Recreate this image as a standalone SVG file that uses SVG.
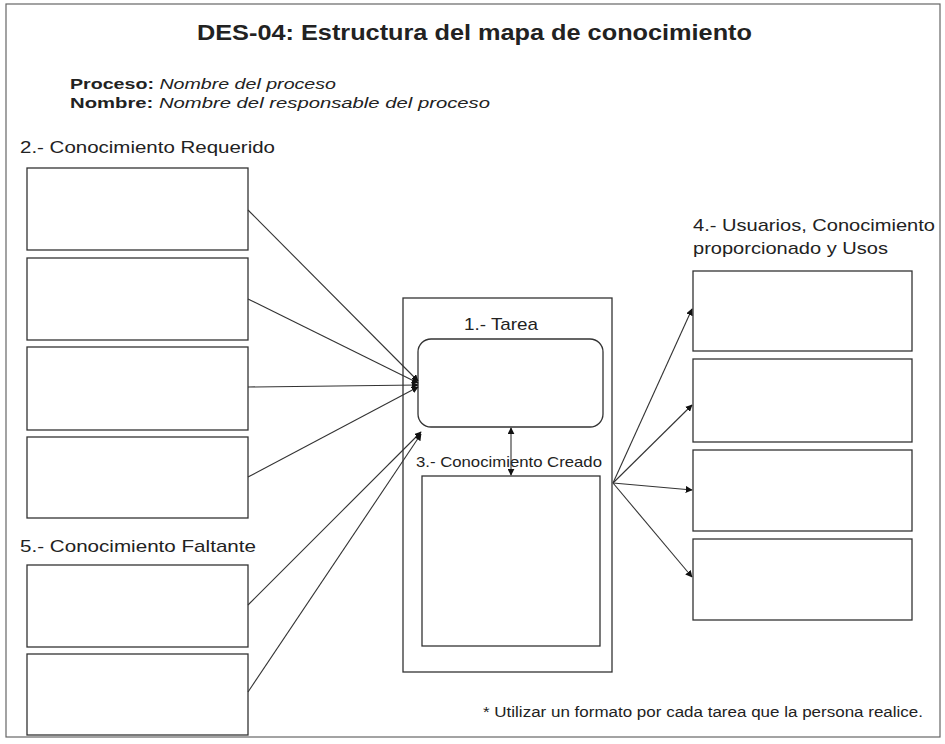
<svg xmlns="http://www.w3.org/2000/svg" width="945" height="744" viewBox="0 0 945 744">
<style>
text{font-family:"Liberation Sans",Arial,sans-serif;fill:#222}
.box{fill:#fff;stroke:#333;stroke-width:1.3}
.frame{fill:#fff;stroke:#666;stroke-width:1.2}
.con{stroke:#333;stroke-width:1.1;fill:none;marker-end:url(#ah)}
</style>
<defs>
<marker id="ah" viewBox="0 0 10 10" refX="9" refY="5" markerWidth="7" markerHeight="7" orient="auto" markerUnits="userSpaceOnUse">
<path d="M0,0 L10,5 L0,10 z" fill="#111"/>
</marker>
<marker id="ahs" viewBox="0 0 10 10" refX="9" refY="5" markerWidth="7" markerHeight="7" orient="auto-start-reverse" markerUnits="userSpaceOnUse">
<path d="M0,0 L10,5 L0,10 z" fill="#111"/>
</marker>
</defs>
<rect class="frame" x="6" y="4" width="934" height="733"/>
<g id="header">
<text x="197" y="40" font-size="22" font-weight="bold" textLength="555" lengthAdjust="spacingAndGlyphs">DES-04: Estructura del mapa de conocimiento</text>
<text x="70" y="89" font-size="15.5" textLength="266" lengthAdjust="spacingAndGlyphs"><tspan font-weight="bold">Proceso:</tspan><tspan font-style="italic"> Nombre del proceso</tspan></text>
<text x="70" y="108" font-size="15.5" textLength="420" lengthAdjust="spacingAndGlyphs"><tspan font-weight="bold">Nombre:</tspan><tspan font-style="italic"> Nombre del responsable del proceso</tspan></text>
</g>
<g id="label-requerido"><text x="20" y="153" font-size="16.5" textLength="255" lengthAdjust="spacingAndGlyphs">2.- Conocimiento Requerido</text></g>
<g id="label-faltante"><text x="20" y="552" font-size="17" textLength="236" lengthAdjust="spacingAndGlyphs">5.- Conocimiento Faltante</text></g>
<g id="label-usuarios">
<text x="693" y="231" font-size="17" textLength="242" lengthAdjust="spacingAndGlyphs">4.- Usuarios, Conocimiento</text>
<text x="693" y="254" font-size="17" textLength="195" lengthAdjust="spacingAndGlyphs">proporcionado y Usos</text>
</g>
<g id="req1"><rect class="box" x="27" y="168" width="221" height="82"/></g>
<g id="req2"><rect class="box" x="27" y="258" width="221" height="82"/></g>
<g id="req3"><rect class="box" x="27" y="347" width="221" height="83"/></g>
<g id="req4"><rect class="box" x="27" y="437" width="221" height="81"/></g>
<g id="falt1"><rect class="box" x="27" y="565" width="221" height="82"/></g>
<g id="falt2"><rect class="box" x="27" y="654" width="221" height="81"/></g>
<g id="centro"><rect class="box" x="403" y="298" width="209" height="374"/></g>
<g id="tarea">
<text x="464" y="330" font-size="17" textLength="74" lengthAdjust="spacingAndGlyphs">1.- Tarea</text>
<rect class="box" x="418" y="339" width="185" height="88" rx="13" ry="13"/>
</g>
<g id="creado">
<text x="416" y="467" font-size="15" textLength="186" lengthAdjust="spacingAndGlyphs">3.- Conocimiento Creado</text>
<rect class="box" x="422" y="476" width="178" height="170"/>
</g>
<g id="uso1"><rect class="box" x="693" y="271" width="219" height="80"/></g>
<g id="uso2"><rect class="box" x="693" y="359" width="219" height="83"/></g>
<g id="uso3"><rect class="box" x="693" y="450" width="219" height="81"/></g>
<g id="uso4"><rect class="box" x="693" y="539" width="219" height="81"/></g>
<g id="nota"><text x="483" y="717" font-size="14" textLength="440" lengthAdjust="spacingAndGlyphs">* Utilizar un formato por cada tarea que la persona realice.</text></g>
<g id="connectors">
<line class="con" x1="248" y1="210" x2="418" y2="381"/>
<line class="con" x1="248" y1="299" x2="418" y2="383"/>
<line class="con" x1="248" y1="387" x2="418" y2="385"/>
<line class="con" x1="248" y1="477" x2="418" y2="387"/>
<line class="con" x1="248" y1="605" x2="421" y2="432"/>
<line class="con" x1="248" y1="692" x2="421" y2="434"/>
<line stroke="#333" stroke-width="1.1" marker-start="url(#ahs)" marker-end="url(#ah)" x1="511" y1="428" x2="511" y2="475"/>
<line class="con" x1="613" y1="483" x2="692" y2="309"/>
<line class="con" x1="613" y1="483" x2="692" y2="405"/>
<line class="con" x1="613" y1="483" x2="692" y2="490"/>
<line class="con" x1="613" y1="483" x2="692" y2="577"/>
</g>
</svg>
